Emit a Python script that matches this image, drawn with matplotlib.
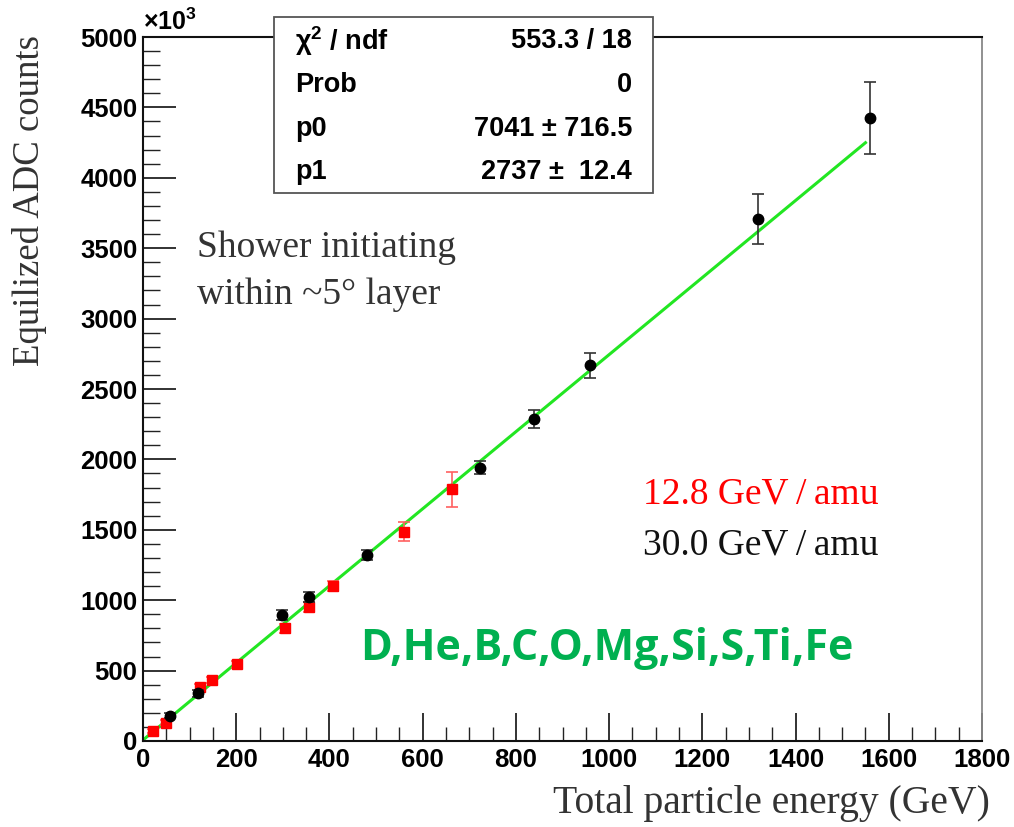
import matplotlib
matplotlib.use("Agg")
import matplotlib.pyplot as plt
from matplotlib.ticker import MultipleLocator, FixedLocator
import numpy as np

# ---- data (y in units of 10^3 ADC counts) ----
red_x = [22, 49, 122, 148, 201, 304, 357, 407, 559, 664]
red_y = [73, 130, 386, 433, 545, 800, 954, 1103, 1487, 1787]
red_err = [15, 18, 22, 22, 25, 30, 35, 35, 65, 122]

black_x = [58, 119, 298, 357, 480, 722, 838, 958, 1319, 1560]
black_y = [178, 338, 895, 1020, 1321, 1941, 2287, 2668, 3707, 4422]
black_err = [18, 25, 35, 35, 35, 45, 65, 90, 175, 256]

fit_p0 = 7041.0   # intercept (counts)
fit_p1 = 2737.0   # slope (counts / GeV)
fit_range = [0, 1550]

stats_labels = [r"$\mathregular{\chi^{2}}$ / ndf", "Prob", "p0", "p1"]
stats_values = ["553.3 / 18", "0", u"7041 \u00b1 716.5", u"2737 \u00b1  12.4"]

x_ticks = [0, 200, 400, 600, 800, 1000, 1200, 1400, 1600, 1800]
y_ticks = [0, 500, 1000, 1500, 2000, 2500, 3000, 3500, 4000, 4500, 5000]

fig = plt.figure(figsize=(10.14, 8.27), dpi=100)
ax = fig.add_axes([143/1014, 86/827, (982-143)/1014, (741-37)/827])

ax.set_xlim(0, 1800)
ax.set_ylim(0, 5000)

# fit line
xf = np.array(fit_range, dtype=float)
yf = (fit_p0 + fit_p1 * xf) / 1000.0
ax.plot(xf, yf, color="#22e622", lw=2.2, zorder=2)

# data
ax.errorbar(red_x, red_y, yerr=red_err, fmt="s", color="#ff0000", ms=7.5,
            ecolor="#ff6060", elinewidth=1.2, capsize=4, capthick=1.2, zorder=3)
ax.errorbar(black_x, black_y, yerr=black_err, fmt="o", color="#000000", ms=7.5,
            ecolor="#333333", elinewidth=1.2, capsize=4, capthick=1.2, zorder=4)

# axes style
tickfont = dict(family="Liberation Sans", weight="bold", size=18.5)
ax.xaxis.set_major_locator(FixedLocator(x_ticks))
ax.yaxis.set_major_locator(FixedLocator(y_ticks))
ax.xaxis.set_minor_locator(MultipleLocator(50))
ax.yaxis.set_minor_locator(MultipleLocator(100))
ax.tick_params(axis="both", which="major", direction="in", length=20, width=1.3,
               color="#222222", top=False, right=False)
ax.tick_params(axis="both", which="minor", direction="in", length=10, width=1.0,
               color="#222222", top=False, right=False)
ax.tick_params(axis="y", which="major", length=24)
ax.tick_params(axis="y", which="minor", length=12)
ax.tick_params(axis="x", pad=5)
ax.tick_params(axis="y", pad=4)
ax.set_xticklabels([str(v) for v in x_ticks], fontdict=tickfont)
ax.set_yticklabels([str(v) for v in y_ticks], fontdict=tickfont)
for s in ["left", "bottom", "top"]:
    ax.spines[s].set_color("#111111")
    ax.spines[s].set_linewidth(1.5)
ax.spines["right"].set_color("#888888")
ax.spines["right"].set_linewidth(1.3)

fig.text(143/1014, 1 - 22/827, r"$\mathregular{\times10^{3}}$", fontsize=18,
         fontweight="bold", family="Liberation Sans", ha="left", va="center")

# axis labels
fig.text(30/1014, 1 - 200/827, "Equilized ADC counts", rotation=90,
         family="Liberation Serif", fontsize=26.5, color="#333333",
         ha="center", va="center")
fig.text(990/1014, 1 - 803/827, "Total particle energy (GeV)",
         family="Liberation Serif", fontsize=28.5, color="#333333",
         ha="right", va="center")

# stats box
bx0, bx1, by0, by1 = 274, 653, 17, 193
box = plt.Rectangle((bx0/1014, 1 - by1/827), (bx1-bx0)/1014, (by1-by0)/827,
                    transform=fig.transFigure, facecolor="white",
                    edgecolor="#555555", lw=1.3, zorder=10)
fig.add_artist(box)
row_y = [41, 85, 129, 172]
for lab, val, yy in zip(stats_labels, stats_values, row_y):
    fig.text(295/1014, 1 - yy/827, lab, family="Liberation Sans",
             weight="bold", fontsize=19.5, ha="left", va="center", zorder=11)
    fig.text(632/1014, 1 - yy/827, val, family="Liberation Sans",
             weight="bold", fontsize=19.5, ha="right", va="center", zorder=11)

# annotations
ax.text(197/1014, 1 - 248/827, "Shower initiating",
        transform=fig.transFigure, family="Liberation Serif", fontsize=27,
        color="#333333", ha="left", va="center")
ax.text(197/1014, 1 - 295/827, "within ~5\u00b0 layer",
        transform=fig.transFigure, family="Liberation Serif", fontsize=27,
        color="#333333", ha="left", va="center")
ax.text(643/1014, 1 - 494/827, u"12.8 GeV\u2009/\u2009amu", transform=fig.transFigure,
        family="Liberation Serif", fontsize=27, color="#ff0000",
        ha="left", va="center")
ax.text(643/1014, 1 - 545/827, u"30.0 GeV\u2009/\u2009amu", transform=fig.transFigure,
        family="Liberation Serif", fontsize=27, color="#111111",
        ha="left", va="center")
ax.text(360/1014, 1 - 649/827, "D,He,B,C,O,Mg,Si,S,Ti,Fe",
        transform=fig.transFigure, family="Open Sans", weight="bold",
        fontsize=31, color="#00b050", ha="left", va="center")

fig.savefig("out.png", dpi=100)
